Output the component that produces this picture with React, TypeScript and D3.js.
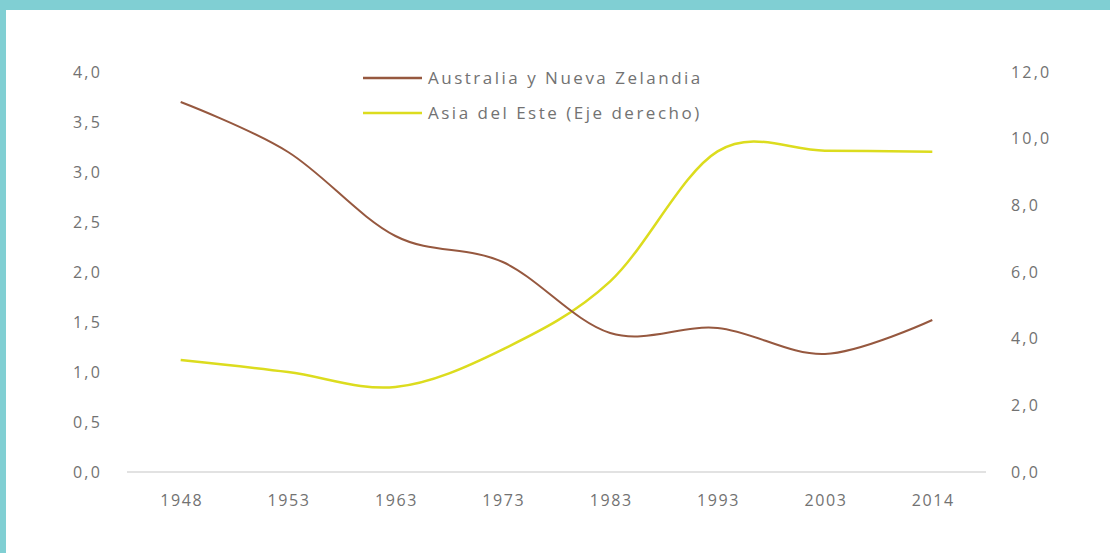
import React from "react";
import * as d3 from "d3";

const years = ["1948", "1953", "1963", "1973", "1983", "1993", "2003", "2014"];
const australiaNZ = [3.7, 3.2, 2.36, 2.1, 1.39, 1.44, 1.18, 1.52];
const eastAsia = [3.36, 3.0, 2.55, 3.68, 5.72, 9.62, 9.64, 9.61];
const leftTicks = [0, 0.5, 1, 1.5, 2, 2.5, 3, 3.5, 4];
const rightTicks = [0, 2, 4, 6, 8, 10, 12];
const seriesNames = ["Australia y Nueva Zelandia", "Asia del Este (Eje derecho)"];

const W = 1110;
const H = 553;
const plot = { left: 127, right: 986, top: 72, bottom: 472 };
const brown = "#96583f";
const yellow = "#dcdc1e";
const textColor = "#727272";
const font = "'Open Sans', 'Liberation Sans', sans-serif";

const fmt = (v: number) => v.toFixed(1).replace(".", ",");

export default function App() {
  const x = d3.scaleBand<string>().domain(years).range([plot.left, plot.right]);
  const xc = (y: string) => (x(y) ?? 0) + x.bandwidth() / 2;
  const yL = d3.scaleLinear().domain([0, 4]).range([plot.bottom, plot.top]);
  const yR = d3.scaleLinear().domain([0, 12]).range([plot.bottom, plot.top]);

  const lineL = d3
    .line<number>()
    .x((_, i) => xc(years[i]))
    .y((d) => yL(d))
    .curve(d3.curveCardinal.tension(0));
  const lineR = d3
    .line<number>()
    .x((_, i) => xc(years[i]))
    .y((d) => yR(d))
    .curve(d3.curveCardinal.tension(0));

  const legend = [
    { name: seriesNames[0], color: brown, y: 78 },
    { name: seriesNames[1], color: yellow, y: 113 },
  ];

  return (
    <svg
      width={W}
      height={H}
      style={{ position: "absolute", left: 0, top: 0, background: "#fff" }}
      fontFamily={font}
    >
      <rect x={0} y={0} width={W} height={H} fill="#ffffff" />
      <rect x={0} y={0} width={W} height={10} fill="#80cfd3" />
      <rect x={0} y={0} width={6} height={H} fill="#80cfd3" />

      <line
        x1={plot.left}
        x2={plot.right}
        y1={yL(0)}
        y2={yL(0)}
        stroke="#d9d9d9"
        strokeWidth={1.5}
      />

      {leftTicks.map((t) => (
        <text
          key={"l" + t}
          x={102}
          y={yL(t)}
          dy="0.35em"
          textAnchor="end"
          fontSize={16}
          letterSpacing={2.2}
          fill={textColor}
        >
          {fmt(t)}
        </text>
      ))}

      {rightTicks.map((t) => (
        <text
          key={"r" + t}
          x={1011}
          y={yR(t)}
          dy="0.35em"
          textAnchor="start"
          fontSize={16}
          letterSpacing={2.2}
          fill={textColor}
        >
          {fmt(t)}
        </text>
      ))}

      {years.map((yr) => (
        <text
          key={yr}
          x={xc(yr) + 1}
          y={500}
          dy="0.35em"
          textAnchor="middle"
          fontSize={16}
          letterSpacing={1.6}
          fill={textColor}
        >
          {yr}
        </text>
      ))}

      <path d={lineR(eastAsia) ?? ""} fill="none" stroke={yellow} strokeWidth={2.5} />
      <path d={lineL(australiaNZ) ?? ""} fill="none" stroke={brown} strokeWidth={2} />

      {legend.map((l) => (
        <g key={l.name}>
          <line x1={363} x2={422} y1={l.y} y2={l.y} stroke={l.color} strokeWidth={2.5} />
          <text
            x={428}
            y={l.y}
            dy="0.35em"
            fontSize={17}
            letterSpacing={2.5}
            fill={textColor}
          >
            {l.name}
          </text>
        </g>
      ))}
    </svg>
  );
}
